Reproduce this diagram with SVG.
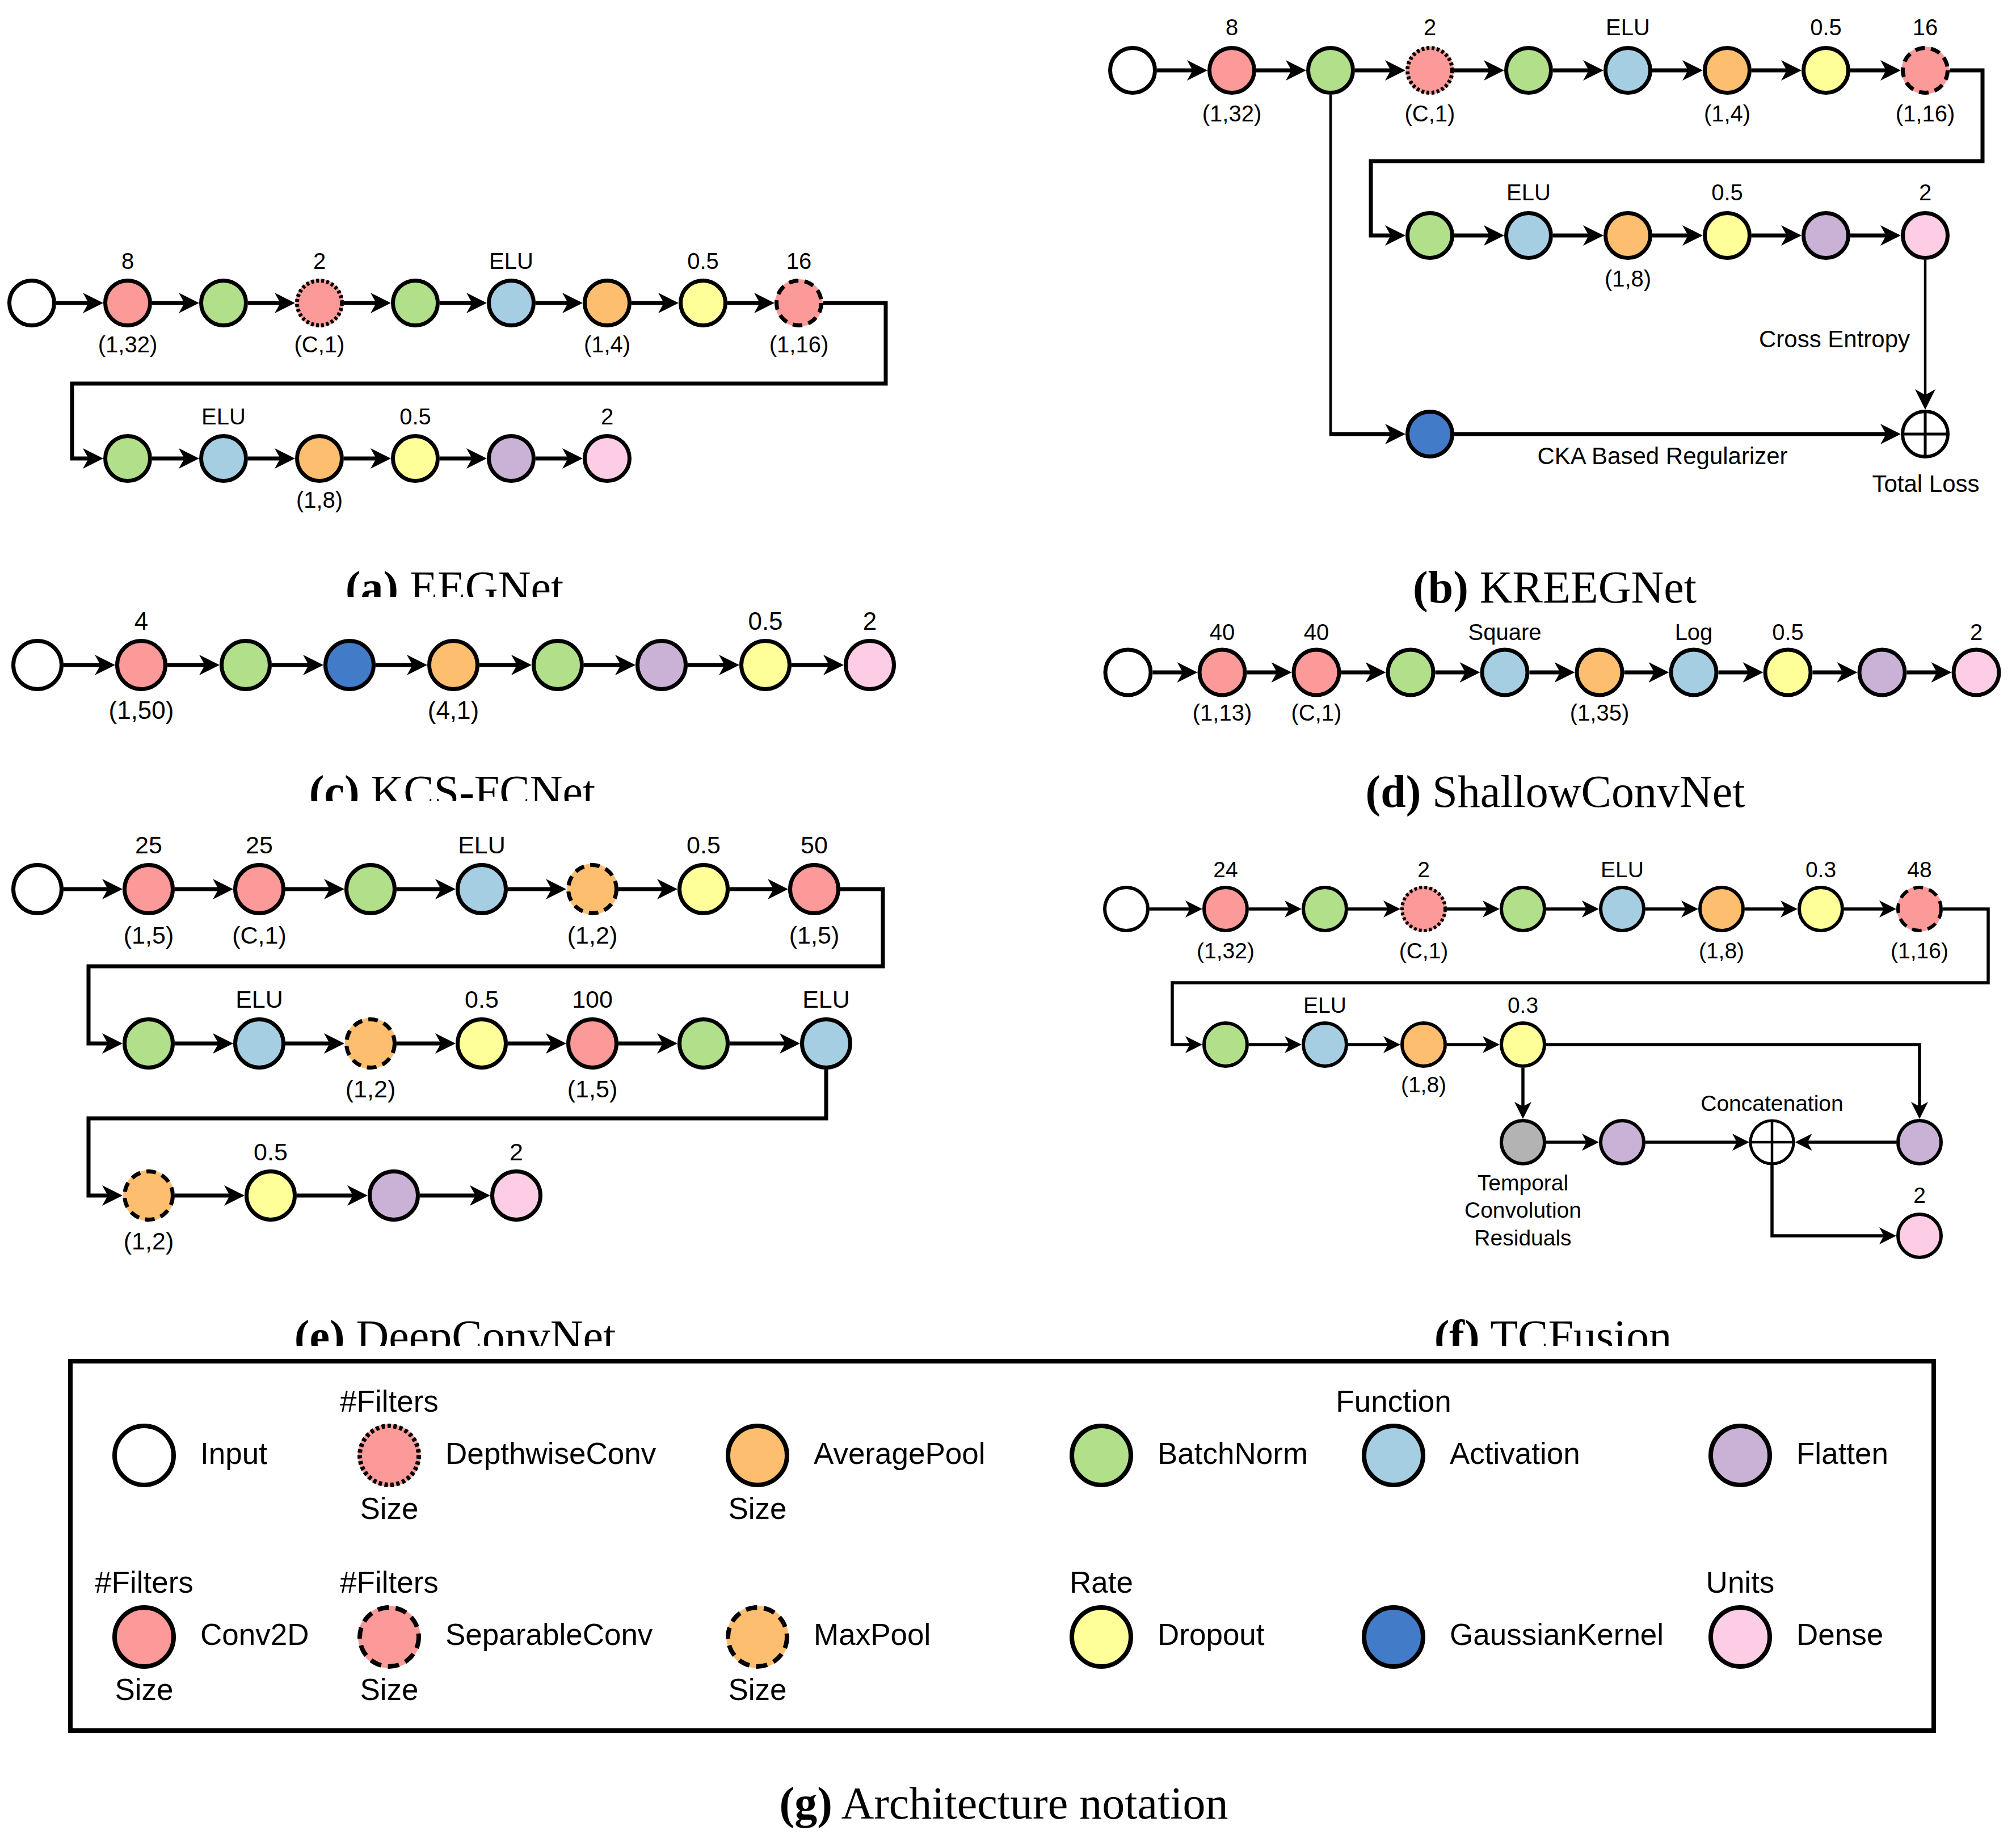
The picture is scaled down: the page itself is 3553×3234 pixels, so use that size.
<svg xmlns="http://www.w3.org/2000/svg" width="3553" height="3234" viewBox="0 0 3553 3234">
<style>
.n{stroke:#000;stroke-width:7}
.nf{stroke:#000;stroke-width:6}
.lg{stroke:#000;stroke-width:8}
.in{fill:#fff}.cv{fill:#FB9A99}.bn{fill:#B2DF8A}.ac{fill:#A6CEE3}.ap{fill:#FDBF6F}.dr{fill:#FFFF99}.fl{fill:#CAB2D6}.de{fill:#FCCDE5}.gk{fill:#427BC8}.tc{fill:#B3B3B3}
.dot{fill:none;stroke-dasharray:5 4}
.dsh{fill:none;stroke-dasharray:17 11}
.ldot{fill:none;stroke-dasharray:6 4.5}
.ldsh{fill:none;stroke-dasharray:20 12}
.ln{fill:none;stroke:#000;stroke-width:7}
.lf{fill:none;stroke:#000;stroke-width:5.5}
.tn{fill:none;stroke:#000;stroke-width:4.5}
.sum{fill:#fff;stroke:#000;stroke-width:6}
.sx{fill:none;stroke:#000;stroke-width:5}
text{font-family:"Liberation Sans",Arial,sans-serif;fill:#000;text-anchor:middle}
.t40{font-size:40px}.t42{font-size:42px}.t44{font-size:44px}.t43{font-size:43px}.t39{font-size:39px}
.lt{font-size:53px;text-anchor:start}.lc{font-size:53px}
.cap{font-family:"Liberation Serif","Times New Roman",serif;font-size:80px}
</style>
<defs>
<marker id="ah" markerUnits="userSpaceOnUse" markerWidth="36" markerHeight="36" viewBox="0 0 36 36" refX="26" refY="18" orient="auto"><path d="M0,0 L36,18 L0,36 L10,18 Z" fill="#000"/></marker>
<marker id="ahs" markerUnits="userSpaceOnUse" markerWidth="30" markerHeight="30" viewBox="0 0 30 30" refX="22" refY="15" orient="auto"><path d="M0,0 L30,15 L0,30 L8,15 Z" fill="#000"/></marker>
<clipPath id="clipA"><rect x="0" y="900" width="1800" height="152"/></clipPath>
<clipPath id="clipC"><rect x="0" y="1300" width="1800" height="112"/></clipPath>
<clipPath id="clipEF"><rect x="0" y="2250" width="3553" height="122"/></clipPath>
</defs>
<rect x="0" y="0" width="3553" height="3234" fill="#fff"/>

<!-- ===== (a) EEGNet ===== -->
<g id="a-connectors">
<path class="ln" marker-end="url(#ah)" d="M99,534H172"/>
<path class="ln" marker-end="url(#ah)" d="M268,534H341"/>
<path class="ln" marker-end="url(#ah)" d="M437,534H510"/>
<path class="ln" marker-end="url(#ah)" d="M606,534H679"/>
<path class="ln" marker-end="url(#ah)" d="M775,534H848"/>
<path class="ln" marker-end="url(#ah)" d="M944,534H1017"/>
<path class="ln" marker-end="url(#ah)" d="M1113,534H1186"/>
<path class="ln" marker-end="url(#ah)" d="M1282,534H1355"/>
<path class="ln" marker-end="url(#ah)" d="M1451,534H1561V676H127V808H172"/>
<path class="ln" marker-end="url(#ah)" d="M268,808H341"/>
<path class="ln" marker-end="url(#ah)" d="M437,808H510"/>
<path class="ln" marker-end="url(#ah)" d="M606,808H679"/>
<path class="ln" marker-end="url(#ah)" d="M775,808H848"/>
<path class="ln" marker-end="url(#ah)" d="M944,808H1017"/>
</g>
<g id="a-n1"><circle class="n in" cx="56" cy="534" r="39.5"/></g>
<g id="a-n2"><circle class="n cv" cx="225" cy="534" r="39.5"/><text class="t40" x="225" y="474">8</text><text class="t40" x="225" y="621">(1,32)</text></g>
<g id="a-n3"><circle class="n bn" cx="394" cy="534" r="39.5"/></g>
<g id="a-n4"><circle class="cv" cx="563" cy="534" r="42"/><circle class="n dot" cx="563" cy="534" r="39.5"/><text class="t40" x="563" y="474">2</text><text class="t40" x="563" y="621">(C,1)</text></g>
<g id="a-n5"><circle class="n bn" cx="732" cy="534" r="39.5"/></g>
<g id="a-n6"><circle class="n ac" cx="901" cy="534" r="39.5"/><text class="t40" x="901" y="474">ELU</text></g>
<g id="a-n7"><circle class="n ap" cx="1070" cy="534" r="39.5"/><text class="t40" x="1070" y="621">(1,4)</text></g>
<g id="a-n8"><circle class="n dr" cx="1239" cy="534" r="39.5"/><text class="t40" x="1239" y="474">0.5</text></g>
<g id="a-n9"><circle class="cv" cx="1408" cy="534" r="42"/><circle class="n dsh" cx="1408" cy="534" r="39.5"/><text class="t40" x="1408" y="474">16</text><text class="t40" x="1408" y="621">(1,16)</text></g>
<g id="a-n10"><circle class="n bn" cx="225" cy="808" r="39.5"/></g>
<g id="a-n11"><circle class="n ac" cx="394" cy="808" r="39.5"/><text class="t40" x="394" y="748">ELU</text></g>
<g id="a-n12"><circle class="n ap" cx="563" cy="808" r="39.5"/><text class="t40" x="563" y="895">(1,8)</text></g>
<g id="a-n13"><circle class="n dr" cx="732" cy="808" r="39.5"/><text class="t40" x="732" y="748">0.5</text></g>
<g id="a-n14"><circle class="n fl" cx="901" cy="808" r="39.5"/></g>
<g id="a-n15"><circle class="n de" cx="1070" cy="808" r="39.5"/><text class="t40" x="1070" y="748">2</text></g>
<g id="a-caption" clip-path="url(#clipA)"><text class="cap" x="801" y="1062"><tspan font-weight="bold">(a)</tspan> EEGNet</text></g>

<!-- ===== (b) KREEGNet ===== -->
<g id="b-connectors">
<path class="ln" marker-end="url(#ah)" d="M2039,124H2118"/>
<path class="ln" marker-end="url(#ah)" d="M2214,124H2292"/>
<path class="ln" marker-end="url(#ah)" d="M2388,124H2467"/>
<path class="ln" marker-end="url(#ah)" d="M2563,124H2641"/>
<path class="ln" marker-end="url(#ah)" d="M2737,124H2816"/>
<path class="ln" marker-end="url(#ah)" d="M2912,124H2991"/>
<path class="ln" marker-end="url(#ah)" d="M3087,124H3165"/>
<path class="ln" marker-end="url(#ah)" d="M3261,124H3340"/>
<path class="ln" marker-end="url(#ah)" d="M3436,124H3494V284H2416V415H2467"/>
<path class="ln" marker-end="url(#ah)" d="M2563,415H2641"/>
<path class="ln" marker-end="url(#ah)" d="M2737,415H2816"/>
<path class="ln" marker-end="url(#ah)" d="M2912,415H2991"/>
<path class="ln" marker-end="url(#ah)" d="M3087,415H3165"/>
<path class="ln" marker-end="url(#ah)" d="M3261,415H3340"/>
<path class="tn" d="M2345,167V767"/>
<path class="ln" marker-end="url(#ah)" d="M2343,765H2467"/>
<path class="ln" marker-end="url(#ah)" d="M2563,765H3340"/>
<path class="tn" marker-end="url(#ah)" d="M3393,458V712"/>
<text class="t42" x="3233" y="612">Cross Entropy</text>
<text class="t42" x="2930" y="818">CKA Based Regularizer</text>
</g>
<g id="b-n1"><circle class="n in" cx="1996" cy="124" r="39.5"/></g>
<g id="b-n2"><circle class="n cv" cx="2171" cy="124" r="39.5"/><text class="t40" x="2171" y="62">8</text><text class="t40" x="2171" y="214">(1,32)</text></g>
<g id="b-n3"><circle class="n bn" cx="2345" cy="124" r="39.5"/></g>
<g id="b-n4"><circle class="cv" cx="2520" cy="124" r="42"/><circle class="n dot" cx="2520" cy="124" r="39.5"/><text class="t40" x="2520" y="62">2</text><text class="t40" x="2520" y="214">(C,1)</text></g>
<g id="b-n5"><circle class="n bn" cx="2694" cy="124" r="39.5"/></g>
<g id="b-n6"><circle class="n ac" cx="2869" cy="124" r="39.5"/><text class="t40" x="2869" y="62">ELU</text></g>
<g id="b-n7"><circle class="n ap" cx="3044" cy="124" r="39.5"/><text class="t40" x="3044" y="214">(1,4)</text></g>
<g id="b-n8"><circle class="n dr" cx="3218" cy="124" r="39.5"/><text class="t40" x="3218" y="62">0.5</text></g>
<g id="b-n9"><circle class="cv" cx="3393" cy="124" r="42"/><circle class="n dsh" cx="3393" cy="124" r="39.5"/><text class="t40" x="3393" y="62">16</text><text class="t40" x="3393" y="214">(1,16)</text></g>
<g id="b-n10"><circle class="n bn" cx="2520" cy="415" r="39.5"/></g>
<g id="b-n11"><circle class="n ac" cx="2694" cy="415" r="39.5"/><text class="t40" x="2694" y="353">ELU</text></g>
<g id="b-n12"><circle class="n ap" cx="2869" cy="415" r="39.5"/><text class="t40" x="2869" y="505">(1,8)</text></g>
<g id="b-n13"><circle class="n dr" cx="3044" cy="415" r="39.5"/><text class="t40" x="3044" y="353">0.5</text></g>
<g id="b-n14"><circle class="n fl" cx="3218" cy="415" r="39.5"/></g>
<g id="b-n15"><circle class="n de" cx="3393" cy="415" r="39.5"/><text class="t40" x="3393" y="353">2</text></g>
<g id="b-n16"><circle class="n gk" cx="2520" cy="765" r="39.5"/></g>
<g id="b-sum"><circle class="sum" cx="3393" cy="765" r="40"/><path class="sx" d="M3353,765H3433M3393,725V805"/><text class="t42" x="3394" y="867">Total Loss</text></g>
<g id="b-caption"><text class="cap" x="2740" y="1062"><tspan font-weight="bold">(b)</tspan> KREEGNet</text></g>

<!-- ===== (c) KCS-FCNet ===== -->
<g id="c-connectors">
<path class="ln" marker-end="url(#ah)" d="M112,1172H193"/>
<path class="ln" marker-end="url(#ah)" d="M295,1172H377"/>
<path class="ln" marker-end="url(#ah)" d="M479,1172H560"/>
<path class="ln" marker-end="url(#ah)" d="M662,1172H743"/>
<path class="ln" marker-end="url(#ah)" d="M845,1172H927"/>
<path class="ln" marker-end="url(#ah)" d="M1029,1172H1110"/>
<path class="ln" marker-end="url(#ah)" d="M1212,1172H1293"/>
<path class="ln" marker-end="url(#ah)" d="M1395,1172H1477"/>
</g>
<g id="c-n1"><circle class="n in" cx="66" cy="1172" r="42.5"/></g>
<g id="c-n2"><circle class="n cv" cx="249" cy="1172" r="42.5"/><text class="t44" x="249" y="1110">4</text><text class="t44" x="249" y="1267">(1,50)</text></g>
<g id="c-n3"><circle class="n bn" cx="433" cy="1172" r="42.5"/></g>
<g id="c-n4"><circle class="n gk" cx="616" cy="1172" r="42.5"/></g>
<g id="c-n5"><circle class="n ap" cx="799" cy="1172" r="42.5"/><text class="t44" x="799" y="1267">(4,1)</text></g>
<g id="c-n6"><circle class="n bn" cx="983" cy="1172" r="42.5"/></g>
<g id="c-n7"><circle class="n fl" cx="1166" cy="1172" r="42.5"/></g>
<g id="c-n8"><circle class="n dr" cx="1349" cy="1172" r="42.5"/><text class="t44" x="1349" y="1110">0.5</text></g>
<g id="c-n9"><circle class="n de" cx="1533" cy="1172" r="42.5"/><text class="t44" x="1533" y="1110">2</text></g>
<g id="c-caption" clip-path="url(#clipC)"><text class="cap" x="797" y="1422"><tspan font-weight="bold">(c)</tspan> KCS-FCNet</text></g>

<!-- ===== (d) ShallowConvNet ===== -->
<g id="d-connectors">
<path class="ln" marker-end="url(#ah)" d="M2031.5,1185H2100.5"/>
<path class="ln" marker-end="url(#ah)" d="M2197.5,1185H2266.5"/>
<path class="ln" marker-end="url(#ah)" d="M2363.5,1185H2432.5"/>
<path class="ln" marker-end="url(#ah)" d="M2529.5,1185H2598.5"/>
<path class="ln" marker-end="url(#ah)" d="M2695.5,1185H2765.5"/>
<path class="ln" marker-end="url(#ah)" d="M2862.5,1185H2931.5"/>
<path class="ln" marker-end="url(#ah)" d="M3028.5,1185H3097.5"/>
<path class="ln" marker-end="url(#ah)" d="M3194.5,1185H3263.5"/>
<path class="ln" marker-end="url(#ah)" d="M3360.5,1185H3429.5"/>
</g>
<g id="d-n1"><circle class="n in" cx="1988" cy="1185" r="40"/></g>
<g id="d-n2"><circle class="n cv" cx="2154" cy="1185" r="40"/><text class="t40" x="2154" y="1128">40</text><text class="t40" x="2154" y="1270">(1,13)</text></g>
<g id="d-n3"><circle class="n cv" cx="2320" cy="1185" r="40"/><text class="t40" x="2320" y="1128">40</text><text class="t40" x="2320" y="1270">(C,1)</text></g>
<g id="d-n4"><circle class="n bn" cx="2486" cy="1185" r="40"/></g>
<g id="d-n5"><circle class="n ac" cx="2652" cy="1185" r="40"/><text class="t40" x="2652" y="1128">Square</text></g>
<g id="d-n6"><circle class="n ap" cx="2819" cy="1185" r="40"/><text class="t40" x="2819" y="1270">(1,35)</text></g>
<g id="d-n7"><circle class="n ac" cx="2985" cy="1185" r="40"/><text class="t40" x="2985" y="1128">Log</text></g>
<g id="d-n8"><circle class="n dr" cx="3151" cy="1185" r="40"/><text class="t40" x="3151" y="1128">0.5</text></g>
<g id="d-n9"><circle class="n fl" cx="3317" cy="1185" r="40"/></g>
<g id="d-n10"><circle class="n de" cx="3483" cy="1185" r="40"/><text class="t40" x="3483" y="1128">2</text></g>
<g id="d-caption"><text class="cap" x="2741" y="1422"><tspan font-weight="bold">(d)</tspan> ShallowConvNet</text></g>

<!-- ===== (e) DeepConvNet ===== -->
<g id="e-connectors">
<path class="ln" marker-end="url(#ah)" d="M112,1567H206"/>
<path class="ln" marker-end="url(#ah)" d="M308,1567H401"/>
<path class="ln" marker-end="url(#ah)" d="M503,1567H597"/>
<path class="ln" marker-end="url(#ah)" d="M699,1567H793"/>
<path class="ln" marker-end="url(#ah)" d="M895,1567H988"/>
<path class="ln" marker-end="url(#ah)" d="M1090,1567H1184"/>
<path class="ln" marker-end="url(#ah)" d="M1286,1567H1379"/>
<path class="ln" marker-end="url(#ah)" d="M1481,1567H1556V1703H156V1839H206"/>
<path class="ln" marker-end="url(#ah)" d="M308,1839H401"/>
<path class="ln" marker-end="url(#ah)" d="M503,1839H597"/>
<path class="ln" marker-end="url(#ah)" d="M699,1839H793"/>
<path class="ln" marker-end="url(#ah)" d="M895,1839H988"/>
<path class="ln" marker-end="url(#ah)" d="M1090,1839H1184"/>
<path class="ln" marker-end="url(#ah)" d="M1286,1839H1400"/>
<path class="ln" marker-end="url(#ah)" d="M1456,1885V1971H156V2107H206"/>
<path class="ln" marker-end="url(#ah)" d="M308,2107H421"/>
<path class="ln" marker-end="url(#ah)" d="M523,2107H638"/>
<path class="ln" marker-end="url(#ah)" d="M740,2107H854"/>
</g>
<g id="e-n1"><circle class="n in" cx="66" cy="1567" r="42.5"/></g>
<g id="e-n2"><circle class="n cv" cx="262" cy="1567" r="42.5"/><text class="t43" x="262" y="1504">25</text><text class="t43" x="262" y="1663">(1,5)</text></g>
<g id="e-n3"><circle class="n cv" cx="457" cy="1567" r="42.5"/><text class="t43" x="457" y="1504">25</text><text class="t43" x="457" y="1663">(C,1)</text></g>
<g id="e-n4"><circle class="n bn" cx="653" cy="1567" r="42.5"/></g>
<g id="e-n5"><circle class="n ac" cx="849" cy="1567" r="42.5"/><text class="t43" x="849" y="1504">ELU</text></g>
<g id="e-n6"><circle class="ap" cx="1044" cy="1567" r="45"/><circle class="n dsh" cx="1044" cy="1567" r="42.5"/><text class="t43" x="1044" y="1663">(1,2)</text></g>
<g id="e-n7"><circle class="n dr" cx="1240" cy="1567" r="42.5"/><text class="t43" x="1240" y="1504">0.5</text></g>
<g id="e-n8"><circle class="n cv" cx="1435" cy="1567" r="42.5"/><text class="t43" x="1435" y="1504">50</text><text class="t43" x="1435" y="1663">(1,5)</text></g>
<g id="e-n9"><circle class="n bn" cx="262" cy="1839" r="42.5"/></g>
<g id="e-n10"><circle class="n ac" cx="457" cy="1839" r="42.5"/><text class="t43" x="457" y="1776">ELU</text></g>
<g id="e-n11"><circle class="ap" cx="653" cy="1839" r="45"/><circle class="n dsh" cx="653" cy="1839" r="42.5"/><text class="t43" x="653" y="1934">(1,2)</text></g>
<g id="e-n12"><circle class="n dr" cx="849" cy="1839" r="42.5"/><text class="t43" x="849" y="1776">0.5</text></g>
<g id="e-n13"><circle class="n cv" cx="1044" cy="1839" r="42.5"/><text class="t43" x="1044" y="1776">100</text><text class="t43" x="1044" y="1934">(1,5)</text></g>
<g id="e-n14"><circle class="n bn" cx="1240" cy="1839" r="42.5"/></g>
<g id="e-n15"><circle class="n ac" cx="1456" cy="1839" r="42.5"/><text class="t43" x="1456" y="1776">ELU</text></g>
<g id="e-n16"><circle class="ap" cx="262" cy="2107" r="45"/><circle class="n dsh" cx="262" cy="2107" r="42.5"/><text class="t43" x="262" y="2202">(1,2)</text></g>
<g id="e-n17"><circle class="n dr" cx="477" cy="2107" r="42.5"/><text class="t43" x="477" y="2045">0.5</text></g>
<g id="e-n18"><circle class="n fl" cx="694" cy="2107" r="42.5"/></g>
<g id="e-n19"><circle class="n de" cx="910" cy="2107" r="42.5"/><text class="t43" x="910" y="2045">2</text></g>
<g id="e-caption" clip-path="url(#clipEF)"><text class="cap" x="802" y="2382"><tspan font-weight="bold">(e)</tspan> DeepConvNet</text></g>

<!-- ===== (f) TCFusion ===== -->
<g id="f-connectors">
<path class="lf" marker-end="url(#ahs)" d="M2026,1602H2111"/>
<path class="lf" marker-end="url(#ahs)" d="M2201,1602H2286"/>
<path class="lf" marker-end="url(#ahs)" d="M2376,1602H2460"/>
<path class="lf" marker-end="url(#ahs)" d="M2550,1602H2635"/>
<path class="lf" marker-end="url(#ahs)" d="M2725,1602H2810"/>
<path class="lf" marker-end="url(#ahs)" d="M2900,1602H2985"/>
<path class="lf" marker-end="url(#ahs)" d="M3075,1602H3160"/>
<path class="lf" marker-end="url(#ahs)" d="M3250,1602H3334"/>
<path class="lf" marker-end="url(#ahs)" d="M3424,1602H3504V1732H2066V1841H2111"/>
<path class="lf" marker-end="url(#ahs)" d="M2201,1841H2286"/>
<path class="lf" marker-end="url(#ahs)" d="M2376,1841H2460"/>
<path class="lf" marker-end="url(#ahs)" d="M2550,1841H2635"/>
<path class="lf" marker-end="url(#ahs)" d="M2725,1841H3383V1964"/>
<path class="lf" marker-end="url(#ahs)" d="M2684,1882V1964"/>
<path class="lf" marker-end="url(#ahs)" d="M2725,2013H2810"/>
<path class="lf" marker-end="url(#ahs)" d="M2900,2013H3075"/>
<path class="lf" marker-end="url(#ahs)" d="M3342,2013H3171.5"/>
<path class="lf" marker-end="url(#ahs)" d="M3123,2053V2178H3334"/>
</g>
<g id="f-n1"><circle class="nf in" cx="1985" cy="1602" r="38"/></g>
<g id="f-n2"><circle class="nf cv" cx="2160" cy="1602" r="38"/><text class="t39" x="2160" y="1546">24</text><text class="t39" x="2160" y="1689">(1,32)</text></g>
<g id="f-n3"><circle class="nf bn" cx="2335" cy="1602" r="38"/></g>
<g id="f-n4"><circle class="cv" cx="2509" cy="1602" r="40"/><circle class="nf dot" cx="2509" cy="1602" r="38"/><text class="t39" x="2509" y="1546">2</text><text class="t39" x="2509" y="1689">(C,1)</text></g>
<g id="f-n5"><circle class="nf bn" cx="2684" cy="1602" r="38"/></g>
<g id="f-n6"><circle class="nf ac" cx="2859" cy="1602" r="38"/><text class="t39" x="2859" y="1546">ELU</text></g>
<g id="f-n7"><circle class="nf ap" cx="3034" cy="1602" r="38"/><text class="t39" x="3034" y="1689">(1,8)</text></g>
<g id="f-n8"><circle class="nf dr" cx="3209" cy="1602" r="38"/><text class="t39" x="3209" y="1546">0.3</text></g>
<g id="f-n9"><circle class="cv" cx="3383" cy="1602" r="40"/><circle class="nf dsh" cx="3383" cy="1602" r="38"/><text class="t39" x="3383" y="1546">48</text><text class="t39" x="3383" y="1689">(1,16)</text></g>
<g id="f-n10"><circle class="nf bn" cx="2160" cy="1841" r="38"/></g>
<g id="f-n11"><circle class="nf ac" cx="2335" cy="1841" r="38"/><text class="t39" x="2335" y="1785">ELU</text></g>
<g id="f-n12"><circle class="nf ap" cx="2509" cy="1841" r="38"/><text class="t39" x="2509" y="1925">(1,8)</text></g>
<g id="f-n13"><circle class="nf dr" cx="2684" cy="1841" r="38"/><text class="t39" x="2684" y="1785">0.3</text></g>
<g id="f-n14"><circle class="nf tc" cx="2684" cy="2013" r="38"/><text class="t39" x="2684" y="2098">Temporal</text><text class="t39" x="2684" y="2146">Convolution</text><text class="t39" x="2684" y="2195">Residuals</text></g>
<g id="f-n15"><circle class="nf fl" cx="2859" cy="2013" r="38"/></g>
<g id="f-sum"><circle class="sum" cx="3123" cy="2013" r="38" style="stroke-width:5"/><path class="sx" d="M3085,2013H3161M3123,1975V2051" style="stroke-width:4.5"/><text class="t39" x="3123" y="1958">Concatenation</text></g>
<g id="f-n16"><circle class="nf fl" cx="3383" cy="2013" r="38"/></g>
<g id="f-n17"><circle class="nf de" cx="3383" cy="2178" r="38"/><text class="t39" x="3383" y="2120">2</text></g>
<g id="f-caption" clip-path="url(#clipEF)"><text class="cap" x="2737" y="2382"><tspan font-weight="bold">(f)</tspan> TCFusion</text></g>

<!-- ===== (g) Legend ===== -->
<g id="legend">
<rect x="124" y="2399" width="3284" height="651" fill="none" stroke="#000" stroke-width="8"/>
<g id="lg-input"><circle class="lg in" cx="254" cy="2565" r="52"/><text class="lt" x="353" y="2580">Input</text></g>
<g id="lg-depthwise"><circle class="cv" cx="686" cy="2565" r="55"/><circle class="lg ldot" cx="686" cy="2565" r="52"/><text class="lc" x="686" y="2488">#Filters</text><text class="lc" x="686" y="2677">Size</text><text class="lt" x="785" y="2580">DepthwiseConv</text></g>
<g id="lg-avgpool"><circle class="lg ap" cx="1335" cy="2565" r="52"/><text class="lc" x="1335" y="2677">Size</text><text class="lt" x="1434" y="2580">AveragePool</text></g>
<g id="lg-batchnorm"><circle class="lg bn" cx="1941" cy="2565" r="52"/><text class="lt" x="2040" y="2580">BatchNorm</text></g>
<g id="lg-activation"><circle class="lg ac" cx="2456" cy="2565" r="52"/><text class="lc" x="2456" y="2488">Function</text><text class="lt" x="2555" y="2580">Activation</text></g>
<g id="lg-flatten"><circle class="lg fl" cx="3067" cy="2565" r="52"/><text class="lt" x="3166" y="2580">Flatten</text></g>
<g id="lg-conv2d"><circle class="lg cv" cx="254" cy="2885" r="52"/><text class="lc" x="254" y="2807">#Filters</text><text class="lc" x="254" y="2996">Size</text><text class="lt" x="353" y="2899">Conv2D</text></g>
<g id="lg-separable"><circle class="cv" cx="686" cy="2885" r="55"/><circle class="lg ldsh" cx="686" cy="2885" r="52"/><text class="lc" x="686" y="2807">#Filters</text><text class="lc" x="686" y="2996">Size</text><text class="lt" x="785" y="2899">SeparableConv</text></g>
<g id="lg-maxpool"><circle class="ap" cx="1335" cy="2885" r="55"/><circle class="lg ldsh" cx="1335" cy="2885" r="52"/><text class="lc" x="1335" y="2996">Size</text><text class="lt" x="1434" y="2899">MaxPool</text></g>
<g id="lg-dropout"><circle class="lg dr" cx="1941" cy="2885" r="52"/><text class="lc" x="1941" y="2807">Rate</text><text class="lt" x="2040" y="2899">Dropout</text></g>
<g id="lg-gaussian"><circle class="lg gk" cx="2456" cy="2885" r="52"/><text class="lt" x="2555" y="2899">GaussianKernel</text></g>
<g id="lg-dense"><circle class="lg de" cx="3067" cy="2885" r="52"/><text class="lc" x="3067" y="2807">Units</text><text class="lt" x="3166" y="2899">Dense</text></g>
</g>
<g id="g-caption"><text class="cap" x="1769" y="3205"><tspan font-weight="bold">(g)</tspan> Architecture notation</text></g>
</svg>
